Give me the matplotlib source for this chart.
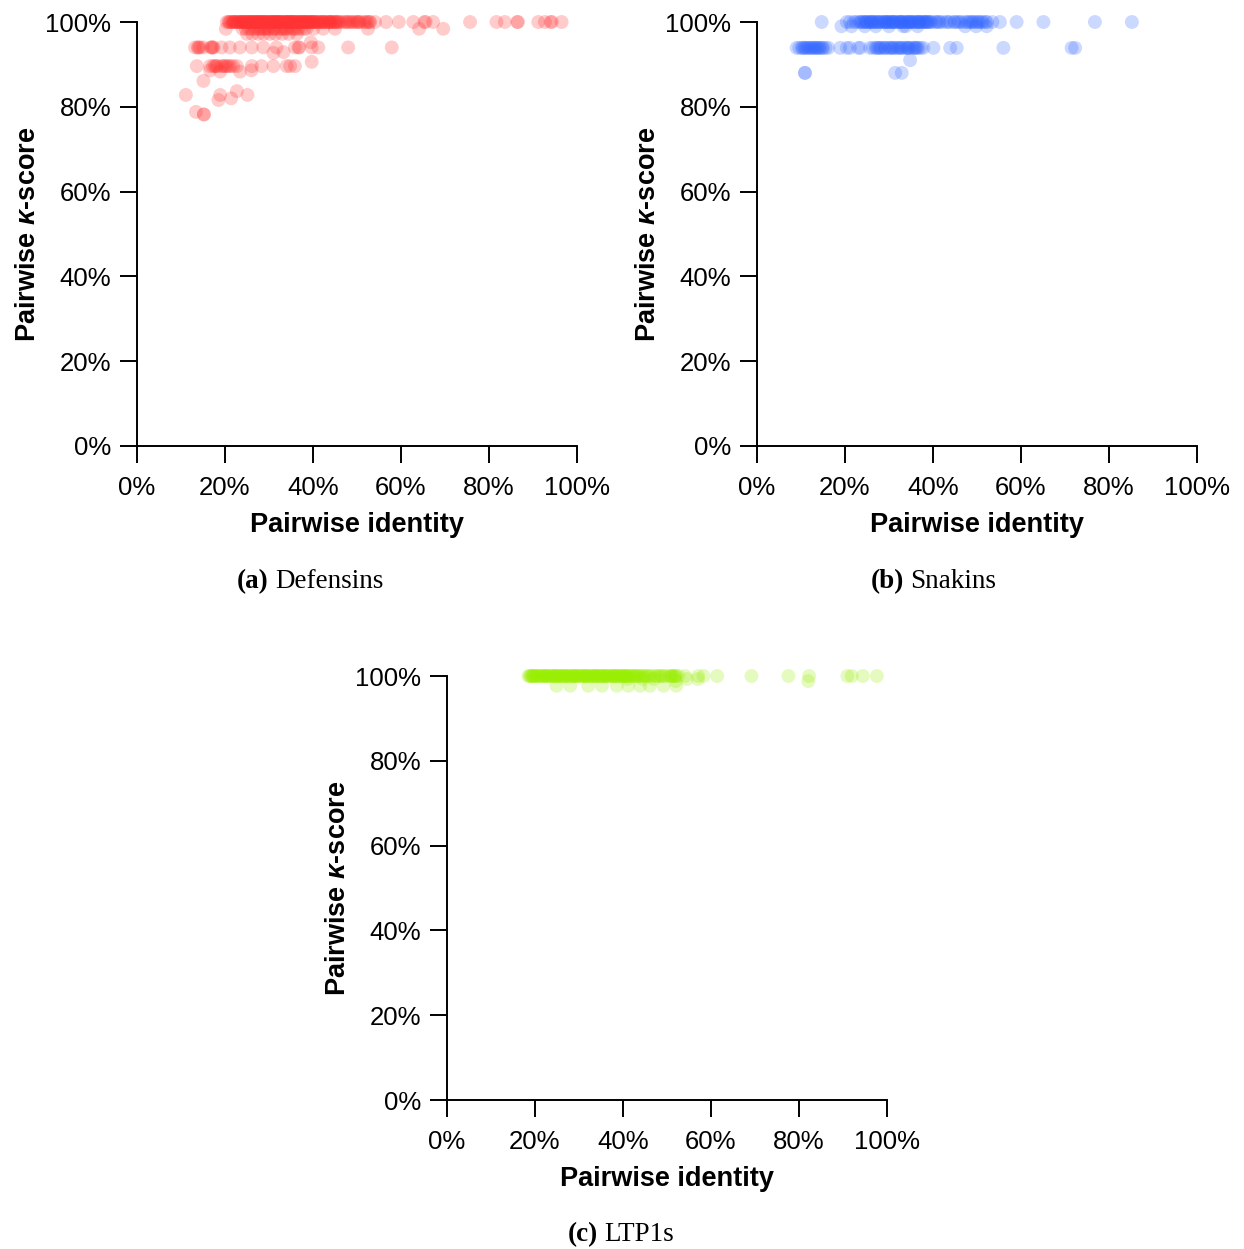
import matplotlib
matplotlib.use("Agg")
import matplotlib.pyplot as plt
from matplotlib.ticker import FuncFormatter

plt.rcParams['font.family'] = ['Liberation Sans', 'DejaVu Sans']
plt.rcParams['mathtext.fontset'] = 'custom'
plt.rcParams['mathtext.it'] = 'Liberation Sans:italic:bold'
plt.rcParams['mathtext.rm'] = 'Liberation Sans:bold'
plt.rcParams['mathtext.bf'] = 'Liberation Sans:bold'

# ---------------- Data (percent) ----------------
# (a) Defensins
def_identity = (
    [20.4, 20.8, 21.2, 21.6, 22.0, 22.3, 22.7, 23.0, 23.4, 23.8, 24.1, 24.5, 24.9, 25.2, 25.6,
     26.0, 26.3, 26.7, 27.1, 27.4, 27.8, 28.2, 28.5, 28.9, 29.3, 29.6, 30.0, 30.4, 30.7, 31.1,
     31.5, 31.8, 32.2, 32.6, 32.9, 33.3, 33.7, 34.0, 34.4, 34.8, 35.1, 35.5, 35.9, 36.2, 36.6,
     37.0, 37.3, 37.7, 38.1, 38.4, 38.8, 39.2, 39.5, 39.9, 40.3, 40.7, 41.1, 41.5, 42.0, 42.4,
     42.8, 43.2, 43.7, 44.1, 44.6, 45.2, 45.9, 46.6, 47.2, 47.9, 48.7, 49.5, 50.1, 50.8, 51.6,
     52.4, 53.0, 54.1, 56.6, 59.5, 62.8, 65.3, 65.6, 67.3, 75.7, 81.7, 83.6, 86.4, 86.6, 91.2,
     92.7, 94.0, 94.3, 96.5,
     22.5, 24.4, 25.9, 27.3, 28.7, 30.2, 31.4, 32.8, 34.2, 35.7, 37.1, 38.6, 40.0, 41.8, 43.5,
     23.2, 25.1, 26.6, 28.0, 29.5, 31.0, 32.4, 33.9, 35.3, 36.8, 38.3, 39.8, 41.2, 44.0, 45.5,
     24.0, 26.3, 27.9, 29.9, 31.9, 33.6, 35.2, 37.5, 39.0, 47.5, 49.0, 50.5, 52.0,
     21.0, 22.1, 23.6, 24.8, 25.4, 26.9, 27.7, 28.3, 29.1, 30.5, 31.3, 32.0, 33.1, 34.6, 35.0,
     36.4, 37.8, 39.3, 40.6, 42.2, 43.9, 44.8, 46.0, 48.2, 21.8, 23.9, 25.7, 27.0, 29.0, 30.9,
     32.3, 34.1, 36.0, 37.9, 40.2, 42.6, 45.1, 50.0, 52.8]
    + [20.2, 24.0, 25.5, 26.8, 27.5, 28.4, 29.2, 30.0, 30.9, 31.6, 32.5, 33.4, 34.2, 35.1, 36.0,
       37.2, 38.5, 40.1, 42.3, 45.0, 52.5, 64.1, 69.6,
       24.7, 26.1, 27.9, 28.9, 29.7, 31.2, 32.9, 33.8, 35.6, 36.6, 38.0]
    + [25.0, 26.2, 27.6, 28.8, 30.2, 31.5, 33.0, 34.5, 36.3]
    + [39.5]
    + [13.2, 14.3, 15.0, 17.0, 17.4, 19.2, 21.1, 23.4, 26.1, 28.7, 31.7, 35.9, 36.7, 36.9, 39.7,
       41.2, 48.0, 57.9, 13.8, 14.0, 17.2, 16.8]
    + [31.0, 33.3]
    + [39.7]
    + [13.6, 16.6, 17.7, 18.3, 19.2, 20.0, 20.8, 21.3, 21.9, 22.7, 26.1, 28.3, 31.0, 34.0, 34.8,
       35.9, 17.3, 18.0, 19.6, 20.4]
    + [18.9, 23.4, 26.0, 16.6]
    + [15.1]
    + [11.1, 18.9, 22.7, 25.1, 21.4, 18.5]
    + [13.4, 15.2, 15.2]
)
def_kscore = (
    [100.0] * 94 + [100.0] * 15 + [100.0] * 15 + [100.0] * 13 + [100.0] * 39
    + [98.4] * 34
    + [97.2] * 9
    + [95.2]
    + [94.0] * 22
    + [92.7, 92.9]
    + [90.6]
    + [89.6] * 20
    + [88.3, 88.3, 88.6, 88.6]
    + [86.1]
    + [82.8, 82.8, 83.7, 82.8, 82.0, 81.6]
    + [78.8, 78.2, 78.2]
)

# (b) Snakins
snk_identity = (
    [14.7, 20.4, 21.1, 22.0, 22.5, 23.2, 23.8, 24.4, 25.0, 25.5, 26.1, 26.7, 27.3, 27.8, 28.4,
     29.0, 29.5, 30.1, 30.7, 31.2, 31.8, 32.4, 32.9, 33.5, 34.1, 34.6, 35.2, 35.8, 36.3, 36.9,
     37.5, 38.2, 38.9, 39.7, 40.5, 41.3, 42.2, 43.0, 43.9, 44.8, 45.6, 46.5, 47.3, 48.2, 49.0,
     49.8, 50.5, 51.4, 52.3, 53.5, 55.2, 59.0, 65.1, 76.8, 85.2,
     24.1, 25.8, 27.5, 29.2, 30.9, 32.6, 34.3, 36.0, 37.7, 39.4, 41.5, 45.0, 48.6, 51.0,
     25.0, 27.0, 29.6, 31.5, 33.2, 35.4, 37.0, 38.6, 47.8, 50.2,
     23.5, 24.7, 26.4, 28.1, 29.9, 31.0, 32.2, 33.9, 35.0, 36.6, 38.0, 39.1, 40.8, 43.4, 46.0,
     49.3, 52.0, 26.0, 28.8, 30.4, 32.8, 34.7, 36.8, 38.4]
    + [19.2, 21.5, 24.5, 27.0, 30.0, 33.2, 33.8, 36.5, 47.3, 49.8, 52.2]
    + [9.0, 9.6, 10.2, 10.8, 11.4, 12.0, 12.6, 13.2, 13.8, 14.4, 15.0, 15.6, 16.2, 11.0, 12.3,
       13.5, 14.8, 18.9, 20.4, 21.1, 23.0, 23.5, 25.7, 26.4, 27.0, 27.6, 28.2, 28.8, 29.4, 30.0,
       30.6, 31.2, 31.8, 32.4, 33.0, 33.6, 34.2, 34.8, 35.4, 36.0, 36.6, 37.2, 37.8, 28.0, 30.3,
       32.1, 34.0, 35.8, 40.1, 43.9, 45.4, 56.0, 71.5, 72.3,
       10.4, 11.7, 13.0, 14.1, 27.3, 29.1, 31.0, 32.8, 34.5, 36.3]
    + [34.8]
    + [10.9, 10.9, 31.4, 32.9]
)
snk_kscore = (
    [100.0] * 55 + [100.0] * 14 + [100.0] * 10 + [100.0] * 24
    + [99.0] * 11
    + [93.9] * 64
    + [91.0]
    + [88.0] * 4
)

# (c) LTP1s
ltp_identity = (
    [18.5, 19.0, 19.5, 20.0, 20.5, 21.0, 21.5, 22.0, 22.5, 23.0, 23.5, 24.0, 24.5, 25.0, 25.5,
     26.0, 26.5, 27.0, 27.5, 28.0, 28.5, 29.0, 29.5, 30.0, 30.5, 31.0, 31.5, 32.0, 32.5, 33.0,
     33.5, 34.0, 34.5, 35.0, 35.5, 36.0, 36.5, 37.0, 37.5, 38.0, 38.5, 39.0, 39.5, 40.0, 40.5,
     41.0, 41.5, 42.0, 42.7, 43.4, 44.1, 44.8, 45.6, 46.4, 47.2, 48.0, 48.8, 49.6, 50.4, 51.2,
     52.0, 52.6, 54.1, 57.1, 58.3, 61.4, 69.2, 77.6, 82.3, 91.0, 92.0, 94.5, 97.7,
     19.2, 20.7, 22.2, 23.7, 25.2, 26.7, 28.2, 29.7, 31.2, 32.7, 34.2, 35.7, 37.2, 38.7, 40.2,
     41.7, 43.2, 20.2, 22.8, 24.8, 27.3, 29.3, 31.8, 33.8, 36.3, 38.3, 40.8, 43.6, 51.0, 51.6,
     18.8, 19.8, 21.3, 22.6, 24.1, 25.8, 27.1, 28.7, 30.3, 31.6, 33.2, 34.8, 36.1, 37.7, 39.3,
     40.6, 42.3, 44.5, 46.0, 47.6, 49.3, 50.9, 19.5, 21.9, 24.4, 26.3, 28.9, 30.8, 33.5, 35.3,
     37.9, 39.8, 42.6, 45.2, 48.4, 51.9]
    + [41.0, 44.5, 47.0, 52.0, 54.5, 57.0, 82.1]
    + [24.9, 28.0, 32.1, 35.2, 38.6, 41.2, 43.9, 46.1, 49.2, 52.1]
)
ltp_kscore = (
    [100.0] * 73 + [100.0] * 30 + [100.0] * 36
    + [99.3, 99.3, 99.3, 98.8, 99.3, 99.3, 98.8]
    + [97.7] * 10
)

ticks = [0, 20, 40, 60, 80, 100]
pct = FuncFormatter(lambda v, p: f"{v:.0f}%")

fig = plt.figure(figsize=(12.44, 12.49), dpi=100)
W, H = 1244.0, 1249.0


def make_ax(left_px, top_px, x, y, color):
    ax = fig.add_axes([left_px / W, 1 - (top_px + 424) / H, 440 / W, 424 / H])
    ax.scatter(x, y, s=100, color=color, alpha=0.25, edgecolors='none', clip_on=False, zorder=3)
    ax.set_xlim(0, 100)
    ax.set_ylim(0, 100)
    ax.set_xticks(ticks)
    ax.set_yticks(ticks)
    ax.xaxis.set_major_formatter(pct)
    ax.yaxis.set_major_formatter(pct)
    for s in ['top', 'right']:
        ax.spines[s].set_visible(False)
    for s in ['left', 'bottom']:
        ax.spines[s].set_linewidth(1.4)
    ax.tick_params(axis='both', length=12.5, width=1.4, labelsize=18.5, direction='out')
    ax.tick_params(axis='x', pad=9)
    ax.tick_params(axis='y', pad=6)
    ax.set_xlabel('Pairwise identity', fontsize=19.5, fontweight='bold', labelpad=9)
    ax.set_ylabel(r'Pairwise $\kappa$-score', fontsize=19.5, fontweight='bold', labelpad=3)
    return ax


make_ax(137, 22, def_identity, def_kscore, '#FF3333')
make_ax(757, 22, snk_identity, snk_kscore, '#3366FF')
make_ax(447, 676, ltp_identity, ltp_kscore, '#99EE00')

serif = ['Liberation Serif', 'DejaVu Serif']


def caption(split_x, base_y, tag, name):
    fig.text((split_x - 2) / W, 1 - base_y / H, tag, ha='right', va='baseline',
             fontsize=19.5, fontweight='bold', family=serif)
    fig.text((split_x + 4) / W, 1 - base_y / H, name, ha='left', va='baseline',
             fontsize=19.5, family=serif)


caption(271, 588, '(a)', 'Defensins')
caption(906, 588, '(b)', 'Snakins')
caption(600, 1241, '(c)', 'LTP1s')

fig.savefig('out.png', dpi=100)
